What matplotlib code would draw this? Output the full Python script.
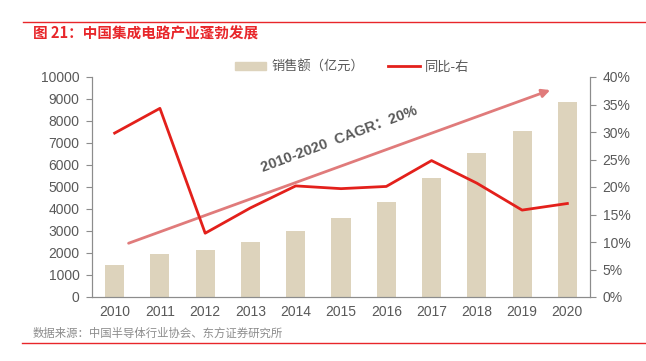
import matplotlib
matplotlib.use("Agg")
import matplotlib.pyplot as plt
from matplotlib.ticker import FuncFormatter, MultipleLocator
import matplotlib.lines as mlines
import matplotlib.patches as mpatches

plt.rcParams['font.family'] = ['Liberation Sans', 'Noto Sans CJK SC', 'DejaVu Sans']

years = ['2010', '2011', '2012', '2013', '2014', '2015', '2016', '2017', '2018', '2019', '2020']
sales = [1440, 1934, 2158, 2508.5, 3015.4, 3609.8, 4335.5, 5411.3, 6532, 7562.3, 8848]
growth = [29.8, 34.3, 11.6, 16.2, 20.2, 19.7, 20.1, 24.8, 20.7, 15.8, 17.0]

bar_color = '#DDD3BC'
line_color = '#E3201B'
gray = '#595959'
axis_gray = '#8C8C8C'
cjk = ['Noto Sans CJK SC', 'DejaVu Sans']

fig = plt.figure(figsize=(6.46, 3.61), dpi=100)
ax = fig.add_axes([92/646, 1-297/361, (590-92)/646, (297-77)/361])
x = list(range(len(years)))
ax.bar(x, sales, width=0.42, color=bar_color, zorder=2)
ax.set_xlim(-0.5, len(years)-0.5)
ax.set_ylim(0, 10000)
ax.yaxis.set_major_locator(MultipleLocator(1000))
ax.set_xticks(x)
ax.set_xticklabels(years)
ax2 = ax.twinx()
ax2.plot(x, growth, color=line_color, lw=2, zorder=3)
ax2.set_ylim(0, 40)
ax2.yaxis.set_major_locator(MultipleLocator(5))
ax2.yaxis.set_major_formatter(FuncFormatter(lambda v, p: f'{v:.0f}%'))

for a in (ax, ax2):
    a.spines['top'].set_visible(False)
    for s in ('left', 'right', 'bottom'):
        a.spines[s].set_color(axis_gray)
        a.spines[s].set_linewidth(0.8)
    a.tick_params(colors=axis_gray, labelcolor=gray, labelsize=10, length=4, width=0.8)
ax.tick_params(axis='x', length=0, pad=6)
ax.tick_params(axis='y', pad=5)
ax2.tick_params(axis='y', pad=5)

# CAGR arrow
ax.annotate('', xy=(9.68, 9450), xytext=(0.25, 2400),
            arrowprops=dict(arrowstyle='-|>', color='#E07B7B', lw=2, mutation_scale=12),
            zorder=4)
ax.text(4.95, 7150, '2010-2020  CAGR：20%', rotation=20.5, ha='center', va='center',
        fontsize=10.5, fontweight='bold', color=gray,
        family=['Liberation Sans', 'Noto Sans CJK SC'])

# legend
h1 = mpatches.Patch(color=bar_color, label='销售额（亿元）')
h2 = mlines.Line2D([], [], color=line_color, lw=2, label='同比-右')
fig.legend(handles=[h1, h2], loc='center', bbox_to_anchor=(352/646, 1-67/361), ncol=2,
           frameon=False, prop={'family': cjk, 'size': 9.5}, labelcolor=gray,
           handlelength=2.4, handleheight=0.5, columnspacing=1.8, handletextpad=0.4)

# title and lines
fig.add_artist(mlines.Line2D([23/646, 1.0], [1-22/361, 1-22/361], color='#E8262A', lw=1))
fig.text(33/646, 1-33/361, '图 21：中国集成电路产业蓬勃发展', color='#E8262A', fontsize=10.5,
         fontweight='bold', va='center', ha='left', family=cjk)
fig.text(33/646, 1-333/361, '数据来源：中国半导体行业协会、东方证券研究所', color='#8C8C8C',
         fontsize=8.2, va='center', ha='left', family=cjk)
fig.add_artist(mlines.Line2D([22/646, 1.0], [1-343/361, 1-343/361], color='#E8262A', lw=1))

fig.savefig('out.png', dpi=100)
